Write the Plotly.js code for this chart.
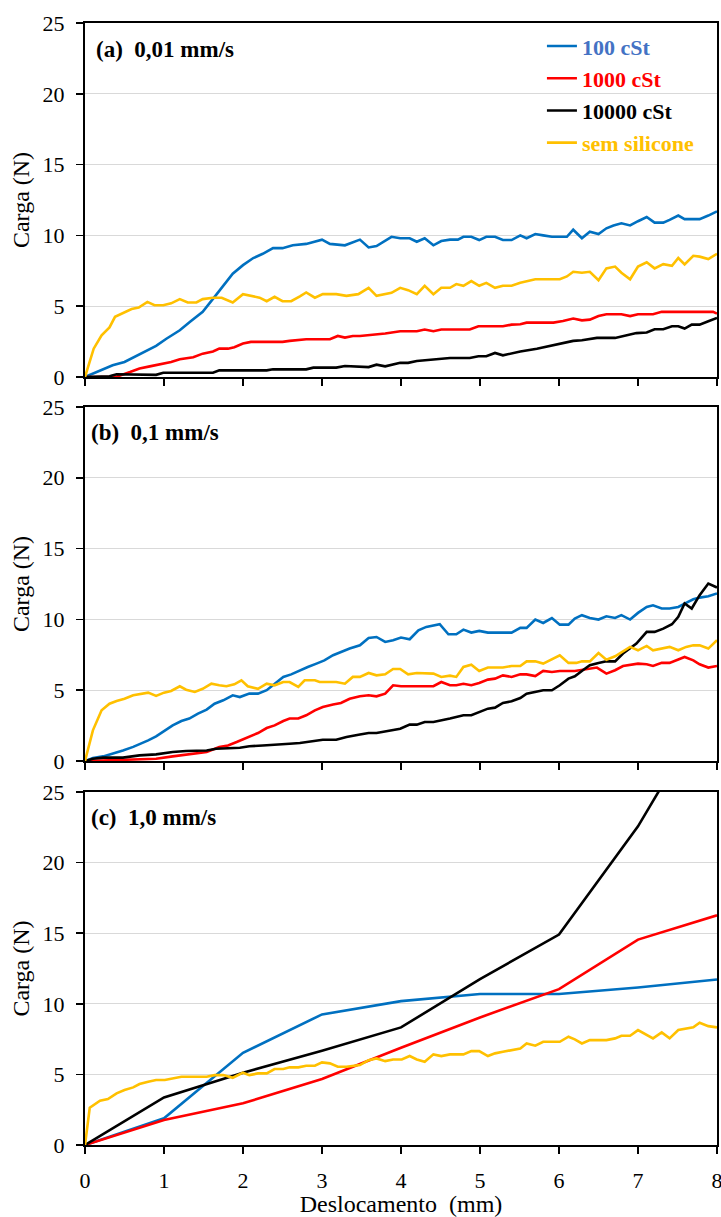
<!DOCTYPE html>
<html>
<head>
<meta charset="utf-8">
<script src="https://cdn.plot.ly/plotly-3.0.1.min.js"></script>
<style>html,body{margin:0;padding:0;background:#fff;}#chart{width:721px;height:1217px;}</style>
</head>
<body>
<div id="chart"></div>
<script>
// ---------- Data ----------
const seriesNames = ["100 cSt", "1000 cSt", "10000 cSt", "sem silicone"];
const panelLabels = ["(a)\u00a0 0,01 mm/s", "(b)\u00a0 0,1 mm/s", "(c)\u00a0 1,0 mm/s"];
const xTickVals = [0, 1, 2, 3, 4, 5, 6, 7, 8];
const yTickVals = [0, 5, 10, 15, 20, 25];

// Panel (a) 0,01 mm/s
const a100X = [0,0.19,0.35,0.5,0.65,0.78,0.9,1.03,1.2,1.33,1.49,1.66,1.87,2.0,2.13,2.25,2.38,2.5,2.63,2.8,3.0,3.1,3.29,3.48,3.59,3.69,3.88,3.99,4.11,4.2,4.3,4.41,4.51,4.62,4.72,4.79,4.89,4.99,5.08,5.19,5.29,5.4,5.51,5.59,5.7,5.8,5.91,6.01,6.1,6.18,6.29,6.39,6.5,6.6,6.69,6.79,6.9,7.0,7.11,7.21,7.32,7.4,7.51,7.59,7.7,7.78,7.89,8.0];
const a100Y = [0,0.47,0.83,1.06,1.5,1.9,2.2,2.7,3.3,3.9,4.6,5.8,7.3,7.9,8.4,8.7,9.1,9.1,9.3,9.4,9.7,9.4,9.3,9.7,9.15,9.25,9.9,9.8,9.8,9.55,9.8,9.3,9.6,9.7,9.7,9.9,9.9,9.67,9.9,9.9,9.67,9.67,10.0,9.8,10.1,10.0,9.9,9.9,9.9,10.4,9.8,10.26,10.1,10.5,10.7,10.85,10.7,11.0,11.3,10.9,10.9,11.1,11.4,11.15,11.15,11.15,11.4,11.7];
const a1000X = [0,0.4,0.57,0.69,0.82,0.99,1.09,1.2,1.37,1.49,1.62,1.7,1.81,1.89,2.0,2.1,2.3,2.5,2.59,2.7,2.8,3.1,3.2,3.29,3.39,3.48,3.69,3.8,3.99,4.2,4.3,4.41,4.51,4.87,4.98,5.29,5.4,5.51,5.59,5.93,6.05,6.18,6.29,6.39,6.5,6.6,6.79,6.9,7.0,7.19,7.3,7.95,8.0];
const a1000Y = [0,0.02,0.35,0.6,0.75,0.94,1.06,1.25,1.4,1.65,1.8,2.0,2.0,2.1,2.36,2.48,2.48,2.48,2.55,2.6,2.67,2.67,2.9,2.78,2.9,2.9,3.0,3.07,3.23,3.23,3.35,3.23,3.35,3.35,3.58,3.58,3.7,3.73,3.84,3.84,3.96,4.13,4.0,4.05,4.3,4.43,4.43,4.3,4.43,4.43,4.6,4.6,4.48];
const a10000X = [0,0.31,0.4,0.9,0.99,1.62,1.7,2.3,2.38,2.8,2.89,3.18,3.29,3.48,3.59,3.69,3.8,3.99,4.09,4.2,4.41,4.51,4.62,4.87,4.98,5.08,5.19,5.29,5.51,5.72,5.93,6.05,6.18,6.29,6.48,6.71,6.98,7.11,7.21,7.32,7.43,7.51,7.59,7.68,7.78,7.89,8.0];
const a10000Y = [0,0.05,0.19,0.15,0.3,0.3,0.47,0.47,0.54,0.54,0.66,0.66,0.78,0.75,0.7,0.87,0.75,1.0,1.0,1.13,1.23,1.25,1.34,1.34,1.46,1.46,1.7,1.53,1.8,2.0,2.24,2.43,2.55,2.6,2.76,2.76,3.1,3.14,3.37,3.37,3.58,3.58,3.42,3.7,3.7,3.94,4.17];
const aSemX = [0,0.11,0.21,0.31,0.38,0.48,0.59,0.68,0.79,0.88,0.99,1.09,1.2,1.3,1.41,1.49,1.62,1.73,1.87,2.0,2.13,2.21,2.3,2.4,2.5,2.61,2.72,2.8,2.91,3.01,3.18,3.31,3.46,3.59,3.69,3.88,3.99,4.09,4.2,4.3,4.41,4.51,4.62,4.7,4.79,4.89,4.99,5.08,5.19,5.29,5.4,5.51,5.7,5.8,6.01,6.1,6.18,6.29,6.39,6.5,6.6,6.71,6.79,6.9,7.0,7.11,7.21,7.32,7.43,7.51,7.59,7.7,7.78,7.89,8.0];
const aSemY = [0,2.0,2.95,3.5,4.25,4.5,4.8,4.9,5.3,5.07,5.07,5.2,5.5,5.26,5.26,5.5,5.6,5.6,5.26,5.85,5.7,5.6,5.35,5.66,5.35,5.35,5.7,5.97,5.6,5.85,5.85,5.73,5.85,6.3,5.73,5.94,6.3,6.13,5.85,6.44,5.85,6.3,6.3,6.56,6.44,6.77,6.44,6.65,6.3,6.44,6.44,6.65,6.9,6.9,6.9,7.1,7.43,7.36,7.43,6.84,7.67,7.8,7.36,6.9,7.8,8.1,7.67,7.97,7.85,8.4,7.95,8.56,8.5,8.33,8.7];

// Panel (b) 0,1 mm/s
const b100X = [0,0.1,0.23,0.35,0.48,0.61,0.71,0.8,0.9,1.0,1.11,1.22,1.32,1.43,1.54,1.64,1.75,1.87,1.96,2.08,2.19,2.3,2.4,2.51,2.61,2.72,2.82,2.93,3.03,3.14,3.24,3.35,3.48,3.59,3.69,3.8,3.9,4.0,4.11,4.22,4.32,4.49,4.6,4.7,4.79,4.89,4.99,5.1,5.4,5.51,5.59,5.7,5.8,5.91,6.01,6.12,6.2,6.29,6.39,6.5,6.6,6.71,6.79,6.9,7.0,7.11,7.19,7.3,7.4,7.51,7.59,7.7,7.78,7.89,8.0];
const b100Y = [0,0.21,0.33,0.52,0.75,1.0,1.22,1.46,1.74,2.12,2.52,2.83,3.0,3.35,3.63,4.05,4.29,4.64,4.52,4.76,4.76,5.0,5.46,5.94,6.12,6.41,6.64,6.88,7.11,7.47,7.7,7.94,8.17,8.69,8.76,8.41,8.53,8.72,8.6,9.23,9.47,9.66,8.95,8.95,9.28,9.07,9.19,9.07,9.07,9.4,9.4,9.99,9.75,10.1,9.63,9.63,10.06,10.3,10.1,9.99,10.22,10.1,10.3,9.99,10.46,10.88,11.0,10.77,10.77,10.88,11.12,11.42,11.54,11.64,11.83];
const b1000X = [0,0.4,0.61,0.9,1.11,1.32,1.54,1.7,1.81,1.92,2.06,2.19,2.3,2.4,2.51,2.59,2.7,2.8,2.91,3.01,3.14,3.24,3.35,3.48,3.59,3.69,3.8,3.9,4.0,4.41,4.51,4.62,4.7,4.79,4.89,4.99,5.1,5.19,5.29,5.4,5.51,5.59,5.7,5.8,5.91,6.01,6.2,6.29,6.39,6.48,6.6,6.71,6.81,7.0,7.11,7.19,7.3,7.4,7.59,7.7,7.78,7.89,8.0];
const b1000Y = [0,0.05,0.1,0.16,0.33,0.47,0.64,0.99,1.1,1.34,1.65,1.98,2.33,2.52,2.83,3.0,3.0,3.23,3.58,3.82,4.0,4.1,4.4,4.57,4.64,4.57,4.76,5.35,5.28,5.28,5.58,5.35,5.35,5.46,5.35,5.51,5.75,5.82,6.05,5.94,6.12,6.12,6.0,6.36,6.29,6.36,6.36,6.45,6.52,6.6,6.17,6.41,6.71,6.88,6.83,6.71,6.93,6.93,7.35,7.11,6.83,6.6,6.71];
const b10000X = [0,0.1,0.23,0.48,0.69,0.9,1.11,1.28,1.54,1.66,1.96,2.08,2.25,2.46,2.59,2.72,2.89,3.01,3.18,3.31,3.48,3.59,3.69,3.8,3.99,4.11,4.2,4.3,4.41,4.62,4.79,4.89,4.99,5.1,5.19,5.29,5.4,5.51,5.59,5.7,5.8,5.91,6.01,6.12,6.2,6.31,6.39,6.5,6.6,6.71,6.81,6.98,7.11,7.21,7.32,7.43,7.51,7.59,7.68,7.78,7.89,8.0];
const b10000Y = [0,0.16,0.24,0.24,0.4,0.47,0.64,0.71,0.75,0.87,0.94,1.04,1.1,1.15,1.22,1.27,1.41,1.5,1.5,1.7,1.87,1.98,1.98,2.1,2.28,2.57,2.57,2.76,2.76,3.0,3.23,3.23,3.46,3.7,3.77,4.1,4.22,4.45,4.76,4.88,5.0,5.0,5.35,5.82,5.98,6.45,6.76,6.93,7.04,7.04,7.59,8.29,9.12,9.12,9.35,9.66,10.18,11.12,10.77,11.71,12.53,12.25];
const bSemX = [0,0.1,0.21,0.31,0.4,0.5,0.61,0.69,0.8,0.9,1.0,1.09,1.2,1.28,1.39,1.49,1.6,1.7,1.79,1.89,1.98,2.06,2.19,2.3,2.4,2.51,2.59,2.7,2.78,2.91,2.97,3.18,3.29,3.39,3.48,3.59,3.69,3.8,3.9,3.99,4.09,4.2,4.3,4.41,4.51,4.62,4.7,4.79,4.89,4.99,5.1,5.29,5.4,5.51,5.59,5.7,5.8,5.91,6.01,6.12,6.22,6.29,6.39,6.5,6.6,6.71,6.81,6.9,7.0,7.11,7.19,7.3,7.4,7.51,7.61,7.7,7.78,7.89,8.0];
const bSemY = [0,2.17,3.58,4.05,4.24,4.4,4.64,4.7,4.83,4.6,4.83,4.95,5.28,5.04,4.88,5.1,5.46,5.35,5.28,5.42,5.7,5.28,5.1,5.46,5.35,5.58,5.58,5.23,5.7,5.7,5.58,5.58,5.46,5.94,5.94,6.22,6.05,6.12,6.5,6.5,6.12,6.22,6.22,6.17,5.94,6.03,5.94,6.64,6.8,6.36,6.6,6.6,6.71,6.71,7.04,7.04,6.88,7.16,7.47,6.93,6.93,7.04,7.04,7.63,7.16,7.4,7.75,8.06,7.82,8.13,7.82,7.94,8.06,7.82,8.06,8.17,8.17,7.94,8.53];

// Panel (c) 1,0 mm/s
const c100X = [0,1,2,3,4,5,6,7,8];
const c100Y = [0,1.89,6.53,9.25,10.19,10.7,10.7,11.16,11.72];
const c1000X = [0,1,2,3,4,5,6,7,8];
const c1000Y = [0,1.77,2.95,4.67,6.89,9.03,11.04,14.55,16.27];
const c10000X = [0,1,2,3,4,5,6,7,8];
const c10000Y = [0,3.37,5.12,6.67,8.33,11.75,14.9,22.57,32];
const cSemX = [0,0.06,0.19,0.29,0.4,0.5,0.61,0.69,0.8,0.9,1.01,1.11,1.22,1.32,1.54,1.64,1.75,1.87,2.0,2.08,2.19,2.3,2.4,2.51,2.59,2.7,2.8,2.91,3.0,3.1,3.2,3.31,3.39,3.48,3.59,3.69,3.8,3.9,4.01,4.11,4.2,4.3,4.41,4.51,4.62,4.79,4.89,4.99,5.1,5.19,5.29,5.4,5.51,5.59,5.7,5.8,5.91,6.01,6.12,6.2,6.29,6.39,6.6,6.71,6.79,6.9,7.0,7.11,7.19,7.3,7.4,7.51,7.59,7.7,7.78,7.89,8.0];
const cSemY = [0,2.64,3.14,3.25,3.66,3.89,4.08,4.32,4.48,4.6,4.6,4.72,4.83,4.83,4.83,4.95,4.95,4.76,5.12,4.95,5.07,5.07,5.38,5.38,5.5,5.5,5.61,5.61,5.85,5.78,5.54,5.54,5.59,5.66,6.01,6.13,5.94,6.06,6.06,6.3,6.06,5.9,6.42,6.3,6.42,6.42,6.65,6.65,6.3,6.49,6.6,6.72,6.84,7.19,7.03,7.31,7.31,7.31,7.67,7.48,7.19,7.43,7.43,7.55,7.74,7.74,8.14,7.78,7.55,7.97,7.55,8.14,8.21,8.33,8.66,8.42,8.33];

// ---------- Styling ----------
const lineColors = ["#0070C0", "#FF0000", "#000000", "#FFC000"];
const legendTextColors = ["#4472C4", "#FF0000", "#000000", "#FFC000"];
const FONT = "Liberation Serif";

const panels = [
  {xs: [a100X, a1000X, a10000X, aSemX], ys: [a100Y, a1000Y, a10000Y, aSemY], xa: "x", ya: "y"},
  {xs: [b100X, b1000X, b10000X, bSemX], ys: [b100Y, b1000Y, b10000Y, bSemY], xa: "x2", ya: "y2"},
  {xs: [c100X, c1000X, c10000X, cSemX], ys: [c100Y, c1000Y, c10000Y, cSemY], xa: "x3", ya: "y3"}
];

const traces = [];
panels.forEach((p, pi) => {
  for (let s = 0; s < 4; s++) {
    traces.push({
      type: "scatter", mode: "lines",
      x: p.xs[s], y: p.ys[s],
      xaxis: p.xa, yaxis: p.ya,
      name: '<b><span style="color:' + legendTextColors[s] + '">' + seriesNames[s] + '</span></b>',
      legendgroup: "g" + s,
      showlegend: pi === 0,
      line: {color: lineColors[s], width: 2.6},
      hoverinfo: "x+y"
    });
  }
});

function xAxis(anchor, showLabels) {
  const ax = {
    anchor: anchor, domain: [0, 1], range: [0, 8],
    tickvals: xTickVals, ticks: "outside", ticklen: 7, tickwidth: 1.5, tickcolor: "#000",
    showticklabels: showLabels, showgrid: false, zeroline: false,
    showline: true, mirror: true, linecolor: "#000", linewidth: 2,
    tickfont: {family: FONT, size: 22, color: "#000"}, ticklabelstandoff: 8,
    ticklabeloverflow: "allow"
  };
  if (showLabels) {
    ax.title = {text: "Deslocamento\u00a0 (mm)", font: {family: FONT, size: 24, color: "#000"}, standoff: 8};
  }
  return ax;
}
function yAxis(anchor, domain) {
  return {
    anchor: anchor, domain: domain, range: [0, 25],
    tickvals: yTickVals, ticks: "outside", ticklen: 7, tickwidth: 1.5, tickcolor: "#000",
    showgrid: true, gridcolor: "#d9d9d9", gridwidth: 1.3, zeroline: false,
    showline: true, mirror: true, linecolor: "#000", linewidth: 2,
    tickfont: {family: FONT, size: 22, color: "#000"}, ticklabelstandoff: 7,
    ticklabeloverflow: "allow",
    title: {text: "Carga (N)", font: {family: FONT, size: 24, color: "#000"}, standoff: 6}
  };
}

const annFont = {family: FONT, size: 23, color: "#000"};
const layout = {
  width: 721, height: 1217,
  margin: {l: 85, r: 4, t: 23, b: 72, autoexpand: false},
  paper_bgcolor: "#fff", plot_bgcolor: "#fff",
  font: {family: FONT, color: "#000"},
  showlegend: true,
  legend: {
    x: 0.723, y: 0.998, xanchor: "left", yanchor: "top",
    bgcolor: "rgba(0,0,0,0)", borderwidth: 0,
    font: {family: FONT, size: 22, color: "#000"},
    tracegroupgap: 0.6
  },
  xaxis: xAxis("y", false),
  yaxis: yAxis("x", [0.6845, 1.0]),
  xaxis2: xAxis("y2", false),
  yaxis2: yAxis("x2", [0.3422, 0.6578]),
  xaxis3: xAxis("y3", true),
  yaxis3: yAxis("x3", [0, 0.3146]),
  annotations: [
    {text: "<b>" + panelLabels[0] + "</b>", xref: "x domain", yref: "y domain", x: 0.014, y: 0.924, xanchor: "left", yanchor: "middle", showarrow: false, font: annFont},
    {text: "<b>" + panelLabels[1] + "</b>", xref: "x2 domain", yref: "y2 domain", x: 0.006, y: 0.927, xanchor: "left", yanchor: "middle", showarrow: false, font: annFont},
    {text: "<b>" + panelLabels[2] + "</b>", xref: "x3 domain", yref: "y3 domain", x: 0.006, y: 0.929, xanchor: "left", yanchor: "middle", showarrow: false, font: annFont}
  ]
};

Plotly.newPlot("chart", traces, layout, {displayModeBar: false, staticPlot: true});
</script>
</body>
</html>
